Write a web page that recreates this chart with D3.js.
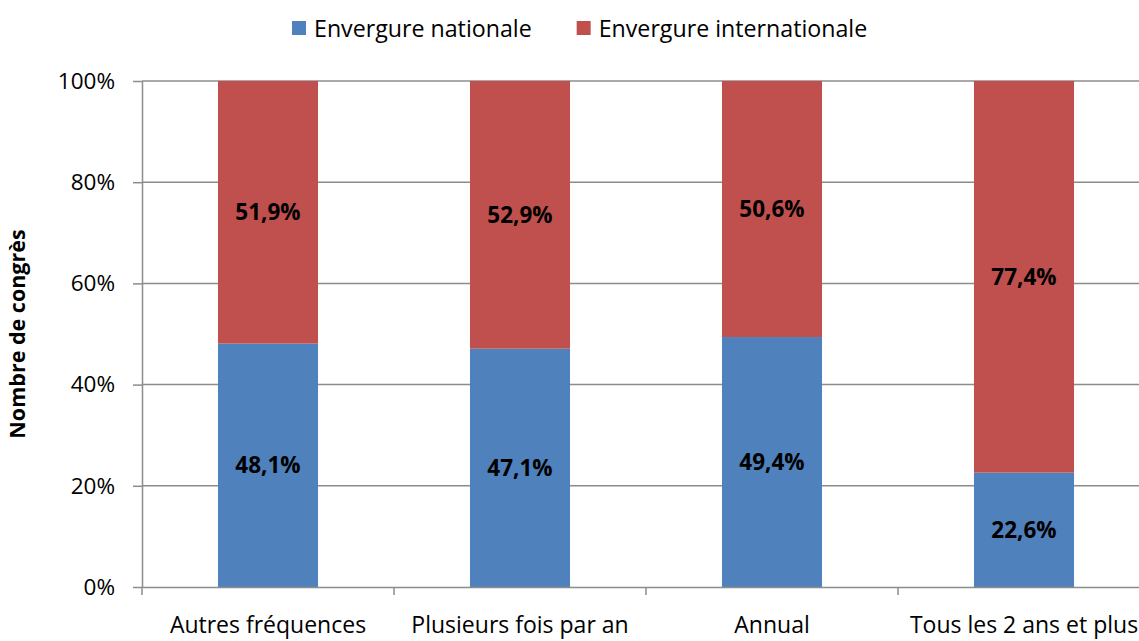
<!DOCTYPE html>
<html>
<head>
<meta charset="utf-8">
<script src="https://cdn.jsdelivr.net/npm/d3@7"></script>
<style>
  body { margin: 0; background: #fff; }
  svg text { font-family: "Open Sans", sans-serif; fill: #000; }
</style>
</head>
<body>
<div id="chart"></div>
<script>
// data
const categories = ["Autres fréquences", "Plusieurs fois par an", "Annual", "Tous les 2 ans et plus"];
const nationale = [48.1, 47.1, 49.4, 22.6];
const internationale = [51.9, 52.9, 50.6, 77.4];
const seriesNames = ["Envergure nationale", "Envergure internationale"];
const seriesColors = ["#4F81BD", "#C0504D"];
const yTicks = [0, 20, 40, 60, 80, 100];

const W = 1139, H = 641;
const plotLeft = 142, plotRight = 1150, plotTop = 81, plotBottom = 587;

const svg = d3.select("#chart").append("svg")
  .attr("width", W).attr("height", H);

const x = d3.scaleBand()
  .domain(categories)
  .range([plotLeft, plotRight])
  .paddingInner(0.603)
  .paddingOuter(0.3015);

const y = d3.scaleLinear()
  .domain([0, 100])
  .range([plotBottom, plotTop]);

// gridlines
svg.append("g")
  .selectAll("line")
  .data(yTicks.filter(d => d > 0))
  .enter().append("line")
  .attr("x1", plotLeft).attr("x2", plotRight)
  .attr("y1", d => y(d)).attr("y2", d => y(d))
  .attr("stroke", "#8c8c8c").attr("stroke-width", 1.5);

// stacked data
const rows = categories.map((c, i) => ({cat: c, nationale: nationale[i], internationale: internationale[i]}));
const stack = d3.stack().keys(["nationale", "internationale"])(rows);

const layers = svg.append("g")
  .selectAll("g")
  .data(stack)
  .enter().append("g")
  .attr("fill", (d, i) => seriesColors[i]);

layers.selectAll("rect")
  .data(d => d)
  .enter().append("rect")
  .attr("x", d => x(d.data.cat))
  .attr("width", x.bandwidth())
  .attr("y", d => y(d[1]))
  .attr("height", d => y(d[0]) - y(d[1]));

// value labels
layers.selectAll("text")
  .data(d => d.map(v => ({v: v, key: d.key})))
  .enter().append("text")
  .attr("x", d => x(d.v.data.cat) + x.bandwidth() / 2)
  .attr("y", d => (y(d.v[0]) + y(d.v[1])) / 2)
  .attr("dy", "0.36em")
  .attr("text-anchor", "middle")
  .style("font-size", "22.5px")
  .style("font-weight", "bold")
  .text(d => d3.format(".1f")(d.v.data[d.key]).replace(".", ",") + "%");

// y axis
const yAxis = svg.append("g")
  .attr("transform", `translate(${plotLeft},0)`)
  .call(d3.axisLeft(y).tickValues(yTicks).tickFormat(d => d + "%").tickSize(9).tickSizeOuter(0));
yAxis.select(".domain").attr("stroke", "#8c8c8c").attr("stroke-width", 1.5);
yAxis.selectAll(".tick line").attr("stroke", "#8c8c8c").attr("stroke-width", 1.5);
yAxis.selectAll(".tick text")
  .attr("x", -27)
  .style("font-size", "22.5px")
  .style("font-family", "'Open Sans', sans-serif")
  .attr("fill", "#000");

// x axis
const xAxis = svg.append("g")
  .attr("transform", `translate(0,${plotBottom})`)
  .call(d3.axisBottom(x).tickSize(0).tickSizeOuter(0));
xAxis.select(".domain").attr("stroke", "#8c8c8c").attr("stroke-width", 1.5);
xAxis.selectAll(".tick text")
  .attr("y", 46)
  .attr("dy", "0")
  .style("font-size", "23px")
  .style("font-family", "'Open Sans', sans-serif")
  .attr("fill", "#000");
// category boundary ticks
xAxis.append("g")
  .selectAll("line")
  .data(categories)
  .enter().append("line")
  .attr("x1", d => x(d) - x.step() * x.paddingOuter())
  .attr("x2", d => x(d) - x.step() * x.paddingOuter())
  .attr("y1", 0).attr("y2", 8)
  .attr("stroke", "#8c8c8c").attr("stroke-width", 1.5);

// y label
svg.append("text")
  .attr("transform", `translate(25,${(plotTop + plotBottom) / 2}) rotate(-90)`)
  .attr("text-anchor", "middle")
  .style("font-size", "21.5px")
  .style("font-weight", "bold")
  .text("Nombre de congrès");

// legend: items placed one after another
const legend = svg.append("g").attr("transform", "translate(292,21)");
let lx = 0;
seriesNames.forEach((name, i) => {
  const g = legend.append("g").attr("transform", `translate(${lx},0)`);
  g.append("rect")
    .attr("width", 14).attr("height", 14)
    .attr("fill", seriesColors[i]);
  const t = g.append("text")
    .attr("x", 22).attr("y", 8)
    .attr("dy", "0.36em")
    .style("font-size", "23.2px")
    .text(name);
  lx += 22 + t.node().getComputedTextLength() + 45;
});
</script>
</body>
</html>
